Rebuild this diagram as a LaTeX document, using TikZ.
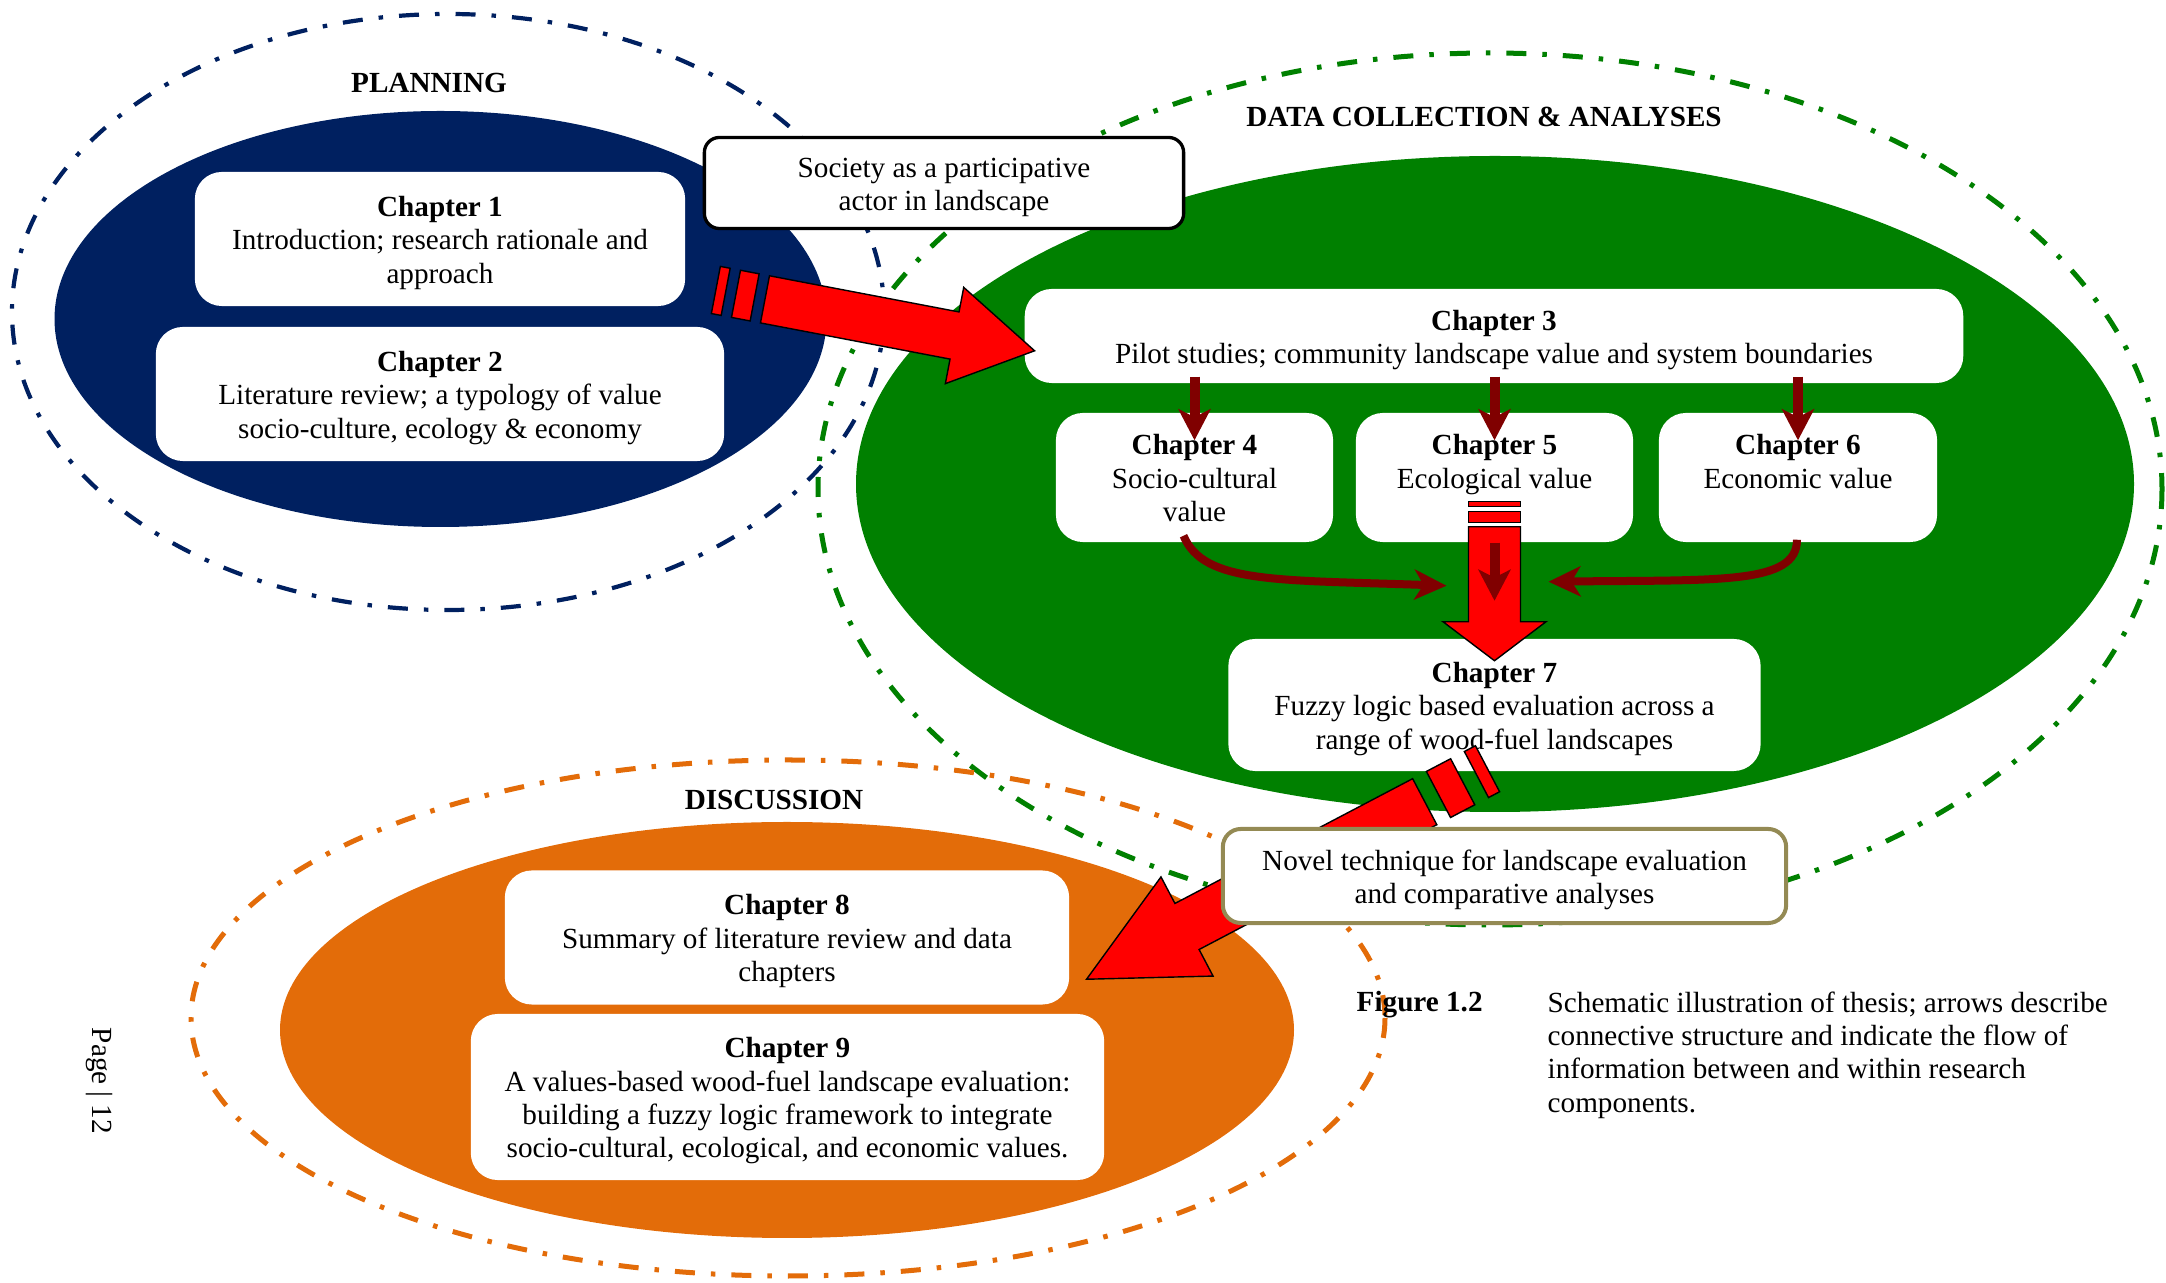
\documentclass[tikz,border=0pt]{standalone}
\usepackage{fontspec}
\setmainfont{Liberation Serif}
\usetikzlibrary{arrows.meta,calc}
\definecolor{navy}{RGB}{0,32,96}
\definecolor{leafgreen}{RGB}{0,128,0}
\definecolor{rust}{RGB}{227,108,9}
\definecolor{maroon}{RGB}{128,0,0}
\definecolor{olive}{RGB}{148,138,84}

% struts for the first and last line of a box
\newcommand{\upstrut}{\rule{0pt}{9pt}}
\newcommand{\dnstrut}{\rule[-2.85pt]{0pt}{2.85pt}}

% block arrow: tail, angle, thin bar, gap, wide bar, body, head, half width, half head
\newcommand{\redarrow}[9]{%
  \begin{scope}[shift={#1}, rotate=#2, bigarr]
    \filldraw (0,-#8) rectangle (#3,#8);
    \filldraw (#3+#4,-#8) rectangle (#3+#4+#5,#8);
    \filldraw (#3+2*#4+#5,-#8) -- ++(#6,0) -- ++(0,#8-#9) -- ++(#7,#9)
      -- ++(-#7,#9) -- ++(0,#8-#9) -- ++(-#6,0) -- cycle;
  \end{scope}}

\begin{document}
\begin{tikzpicture}[x=0.01cm, y=-0.01cm,
    every node/.style={font=\fontsize{8.3}{9.5}\selectfont},
    chap/.style={fill=white, rounded corners=0.27cm, align=center, inner sep=0pt},
    ring/.style={line width=0.05cm, dash pattern=on 0.20cm off 0.16cm on 0.045cm off 0.16cm},
    darr/.style={maroon, line width=0.1cm, -{Stealth[length=0.31cm,width=0.32cm,inset=0.08cm]}},
    carr/.style={maroon, line width=0.08cm, -{Stealth[length=0.32cm,width=0.30cm,inset=0.09cm]}},
    bigarr/.style={fill=red, draw=black, line width=0.4pt}]
  \useasboundingbox (0,0) rectangle (2166,1283);

  % dashed rings
  \draw[ring, navy, line width=0.042cm] (448,312) ellipse [x radius=436, y radius=298];
  \draw[ring, leafgreen] (1490,489) ellipse [x radius=672, y radius=436];
  \draw[ring, rust] (788,1018) ellipse [x radius=597, y radius=258];
  % filled ellipses
  \fill[navy] (440.5,319) ellipse [x radius=386, y radius=208];
  \fill[leafgreen] (1495,484) ellipse [x radius=639, y radius=328];
  \fill[rust] (787,1030) ellipse [x radius=507, y radius=208];

  % labels
  \node (plan) at (429,83) {\textbf{PLANNING}};
  \node (data) at (1484,117) {\textbf{DATA COLLECTION \& ANALYSES}};
  \node (disc) at (774,800) {\textbf{DISCUSSION}};
  \node[anchor=west, inner sep=0pt] (fig) at (1356,1005) {\textbf{Figure 1.2}};
  \node[anchor=west, align=left, inner sep=0pt] (cap) at (1547,1055)
    {Schematic illustration of thesis; arrows describe\\connective structure and indicate the flow of\\information between and within research\\components.};
  \node[rotate=-90] (page) at (99,1081) {Page | 12};

  % chapters
  \node[chap, minimum width=4.90cm, minimum height=1.34cm] (ch1) at (440,239)
    {\upstrut\textbf{Chapter 1}\\Introduction; research rationale and\\approach\dnstrut};
  \node[chap, minimum width=5.68cm, minimum height=1.34cm] (ch2) at (440,394)
    {\upstrut\textbf{Chapter 2}\\Literature review; a typology of value\\socio-culture, ecology \& economy\dnstrut};
  \node[chap, minimum width=9.38cm, minimum height=0.94cm] (ch3) at (1494,336)
    {\upstrut\textbf{Chapter 3}\\Pilot studies; community landscape value and system boundaries\dnstrut};
  \node[chap, minimum width=2.77cm, minimum height=1.29cm] (ch4) at (1194.5,477.5)
    {\upstrut\textbf{Chapter 4}\\Socio-cultural\\value\dnstrut};
  \node[chap, minimum width=2.77cm, minimum height=1.29cm] (ch5) at (1494.5,477.5)
    {\upstrut\textbf{Chapter 5}\\Ecological value\\\dnstrut};
  \node[chap, minimum width=2.78cm, minimum height=1.29cm] (ch6) at (1798,477.5)
    {\upstrut\textbf{Chapter 6}\\Economic value\\\dnstrut};
  \node[chap, minimum width=5.32cm, minimum height=1.32cm] (ch7) at (1494.5,705)
    {\upstrut\textbf{Chapter 7}\\Fuzzy logic based evaluation across a\\range of wood-fuel landscapes\dnstrut};
  \node[chap, minimum width=5.64cm, minimum height=1.34cm] (ch8) at (787,937.5)
    {\upstrut\textbf{Chapter 8}\\Summary of literature review and data\\chapters\dnstrut};
  \node[chap, minimum width=6.33cm, minimum height=1.66cm] (ch9) at (787.5,1097)
    {\upstrut\textbf{Chapter 9}\\A values-based wood-fuel landscape evaluation:\\building a fuzzy logic framework to integrate\\socio-cultural, ecological, and economic values.\dnstrut};

  % chapter 3 into the value chapters
  \foreach \c in {ch4,ch5,ch6}
    \draw[darr] ($(ch3.south -| \c.north)+(0,-7)$) -- ($(\c.north)+(0,28)$);
  \draw[carr] ($(ch4.south)+(-11,-7)$) .. controls +(20,48) and +(-170,-6) .. ($(ch5.south)+(-48,43)$);
  \draw[carr] ($(ch6.south)+(-1,-3)$) .. controls +(0,45) and +(170,-2) .. ($(ch5.south)+(54,39)$);

  % big red arrows
  \redarrow{($(ch1.east)+(30,51)$)}{-10.8}{10}{10.5}{19}{193}{81.5}{24}{49}
  \redarrow{($(ch5.south)+(0,-41)$)}{-90}{5}{4.5}{11}{95}{39}{26}{51.5}
  \redarrow{($(ch7.south)+(-7,-3)$)}{207.7}{12.5}{15.5}{27.4}{268.5}{113.5}{26}{56}
  \draw[darr] (ch5.south) -- ($(ch5.south)+(0,58)$);

  % notes
  \node[fill=white, draw=black, line width=0.033cm, rounded corners=0.15cm, align=center,
    inner sep=0pt, minimum width=4.79cm, minimum height=0.91cm] (soc) at (944,183)
    {\upstrut Society as a participative\\actor in landscape\dnstrut};
  \node[fill=white, draw=olive, line width=0.04cm, rounded corners=0.18cm, align=center,
    inner sep=0pt, minimum width=5.63cm, minimum height=0.94cm] (novel) at (1504.5,876)
    {\upstrut Novel technique for landscape evaluation\\and comparative analyses\dnstrut};
\end{tikzpicture}
\end{document}
